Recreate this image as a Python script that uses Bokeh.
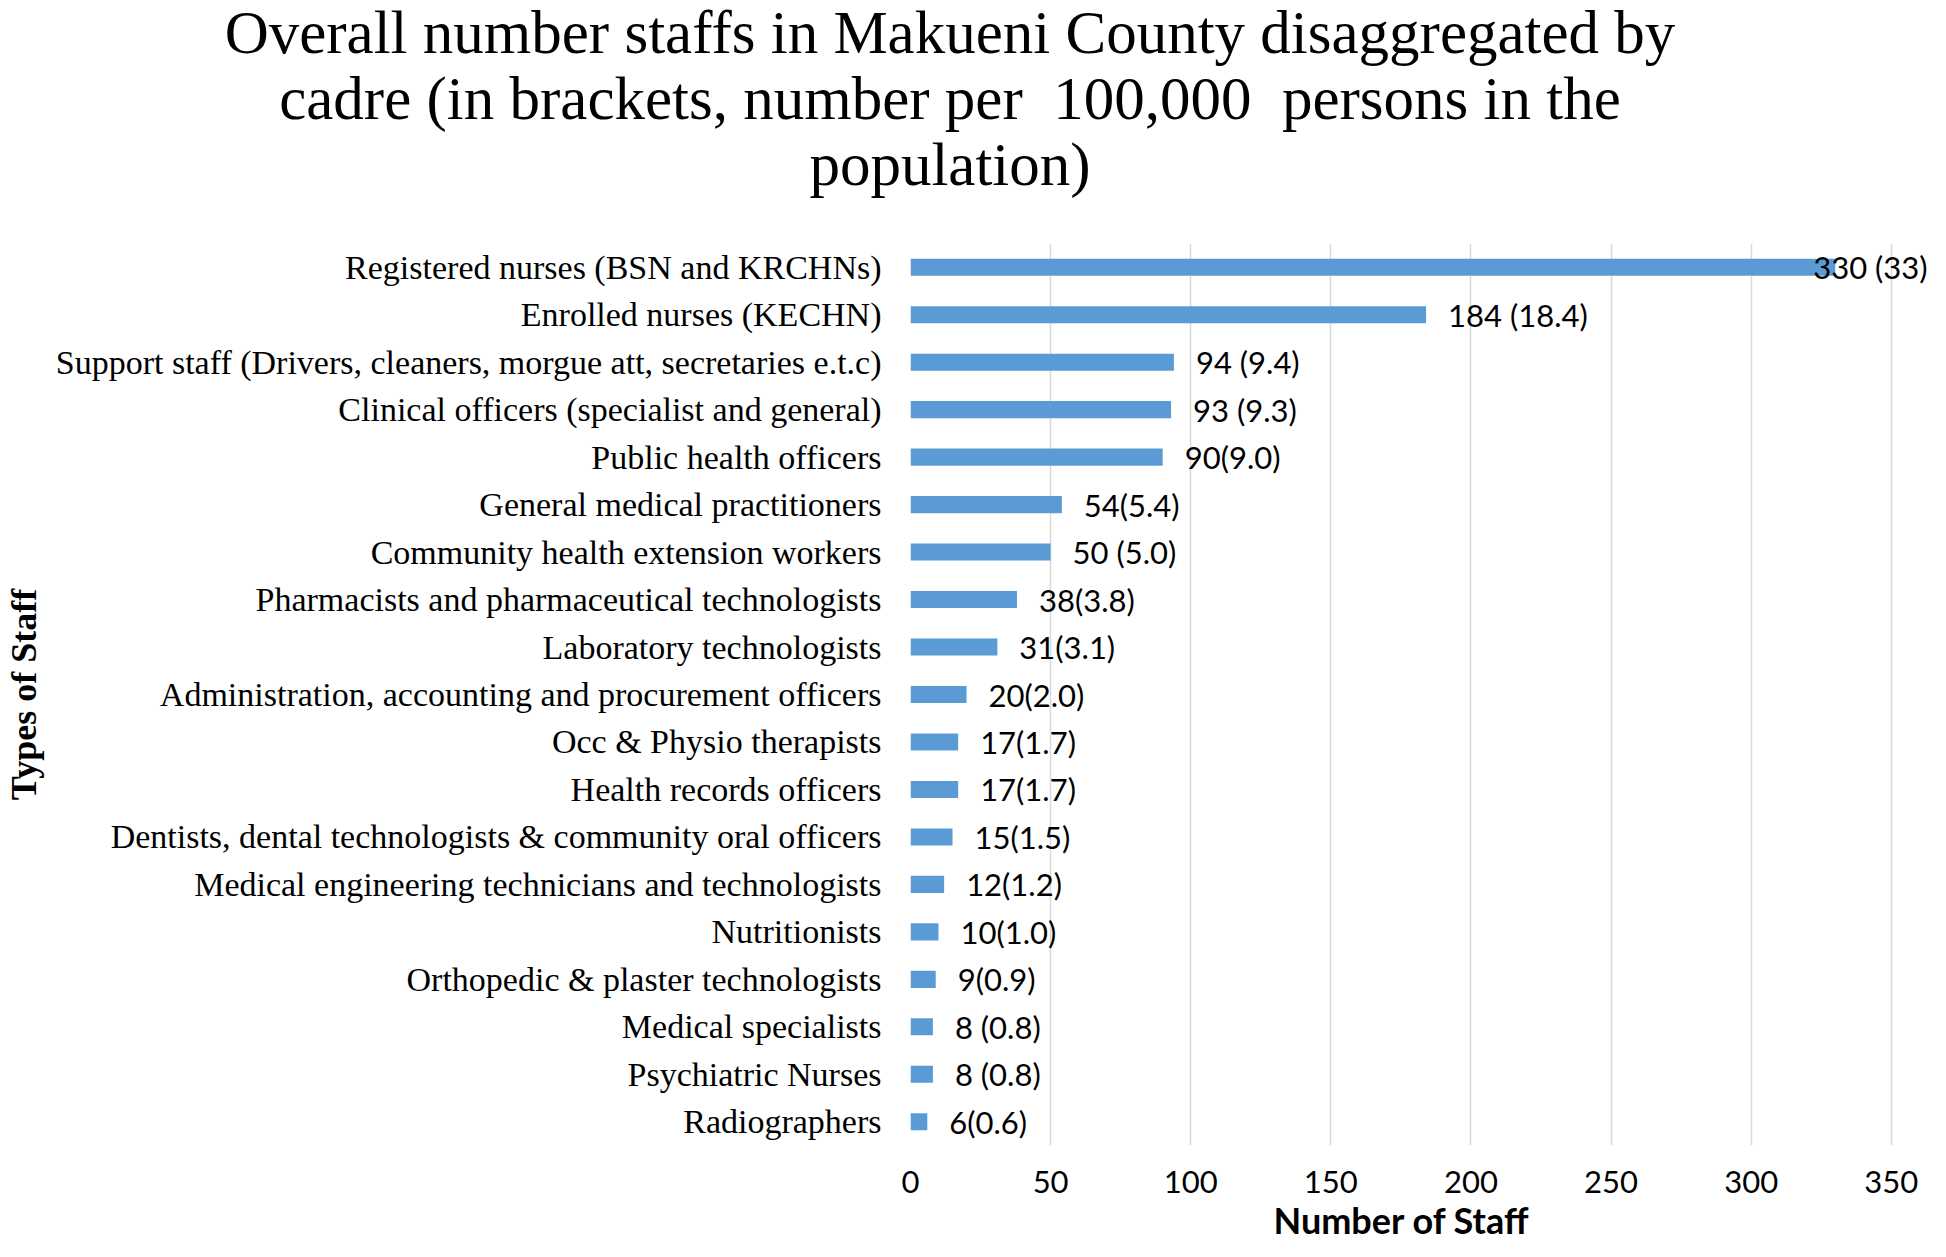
from bokeh.plotting import figure
from bokeh.models import ColumnDataSource, FactorRange, Range1d, LabelSet, Title, FixedTicker, Div
from bokeh.layouts import column
from bokeh.core.properties import value
from bokeh.embed import file_html
from bokeh.resources import INLINE

# ---- data (top to bottom as shown) ----
categories = [
    "Registered nurses (BSN and KRCHNs)",
    "Enrolled nurses (KECHN)",
    "Support staff (Drivers, cleaners, morgue att, secretaries e.t.c)",
    "Clinical officers (specialist and general)",
    "Public health officers",
    "General medical practitioners",
    "Community health extension workers",
    "Pharmacists and pharmaceutical technologists",
    "Laboratory technologists",
    "Administration, accounting and procurement officers",
    "Occ & Physio therapists",
    "Health records officers",
    "Dentists, dental technologists & community oral officers",
    "Medical engineering technicians and technologists",
    "Nutritionists",
    "Orthopedic & plaster technologists",
    "Medical specialists",
    "Psychiatric Nurses",
    "Radiographers",
]
staff_counts = [330, 184, 94, 93, 90, 54, 50, 38, 31, 20, 17, 17, 15, 12, 10, 9, 8, 8, 6]
value_labels = ["330 (33)", "184 (18.4)", "94 (9.4)", "93 (9.3)", "90(9.0)", "54(5.4)",
                "50 (5.0)", "38(3.8)", "31(3.1)", "20(2.0)", "17(1.7)", "17(1.7)",
                "15(1.5)", "12(1.2)", "10(1.0)", "9(0.9)", "8 (0.8)", "8 (0.8)", "6(0.6)"]
x_ticks = [0, 50, 100, 150, 200, 250, 300, 350]

title_lines = [
    "Overall number staffs in Makueni County disaggregated by",
    "cadre (in brackets, number per  100,000  persons in the",
    "population)",
]

W = 1930
TITLE_H = 243
MAIN_H = 998
X_END = 364

SERIF = "Liberation Serif"
SANS = "Lato"

# labels sit just right of the bar; the longest one is pulled in so it stays on the canvas
label_offsets = [22 if v < 300 else -22 for v in staff_counts]
src = ColumnDataSource(dict(cat=categories, staff=staff_counts, lab=value_labels, off=label_offsets))

# ---------- title ----------
title_html = (
    "<div style=\"font-family:'Liberation Serif','Times New Roman',serif;font-size:61px;"
    "line-height:66px;text-align:center;color:#000;width:1900px;margin:0;"
    "padding:0;white-space:pre;\">"
    + "<br>".join(title_lines) + "</div>"
)
title_div = Div(text=title_html, width=W, height=TITLE_H, margin=(0, 0, 0, 0))

# ---------- main chart ----------
p = figure(width=W, height=MAIN_H,
           y_range=FactorRange(*categories[::-1]),
           x_range=Range1d(0, X_END),
           output_backend="svg", toolbar_location=None,
           min_border_left=0, min_border_right=0, min_border_top=0, min_border_bottom=0)
p.outline_line_color = None

p.hbar(y="cat", left=0, right="staff", height=0.36, source=src,
       fill_color="#5B9BD5", line_color=None)

p.add_layout(LabelSet(x="staff", y="cat", text="lab", x_offset="off", source=src,
                      text_font=value(SANS), text_font_size="31px", text_color="black",
                      text_baseline="middle", text_align="left"))

p.ygrid.grid_line_color = None
p.xgrid.grid_line_color = "#D9D9D9"
p.xgrid.grid_line_width = 1.5
p.xgrid.ticker = FixedTicker(ticks=x_ticks)

xa = p.xaxis[0]
xa.ticker = FixedTicker(ticks=x_ticks)
xa.axis_line_color = None
xa.major_tick_line_color = None
xa.minor_tick_line_color = None
xa.major_label_text_font = SANS
xa.major_label_text_font_size = "31px"
xa.major_label_text_color = "black"
xa.major_label_standoff = 19

p.add_layout(Title(text="Number of Staff", align="left", offset=363,
                   text_font=SANS, text_font_style="bold", text_font_size="36px",
                   text_color="black", standoff=0), "below")

ya = p.yaxis[0]
ya.axis_line_color = None
ya.major_tick_line_color = None
ya.minor_tick_line_color = None
ya.major_label_text_font = SERIF
ya.major_label_text_font_size = "34px"
ya.major_label_text_color = "black"
ya.major_label_standoff = 23
ya.axis_label = "Types of Staff"
ya.axis_label_text_font = SERIF
ya.axis_label_text_font_style = "bold"
ya.axis_label_text_font_size = "36px"
ya.axis_label_text_color = "black"
ya.axis_label_standoff = 9

layout = column(title_div, p, spacing=0)
open("out.html", "w").write(file_html(layout, INLINE))
